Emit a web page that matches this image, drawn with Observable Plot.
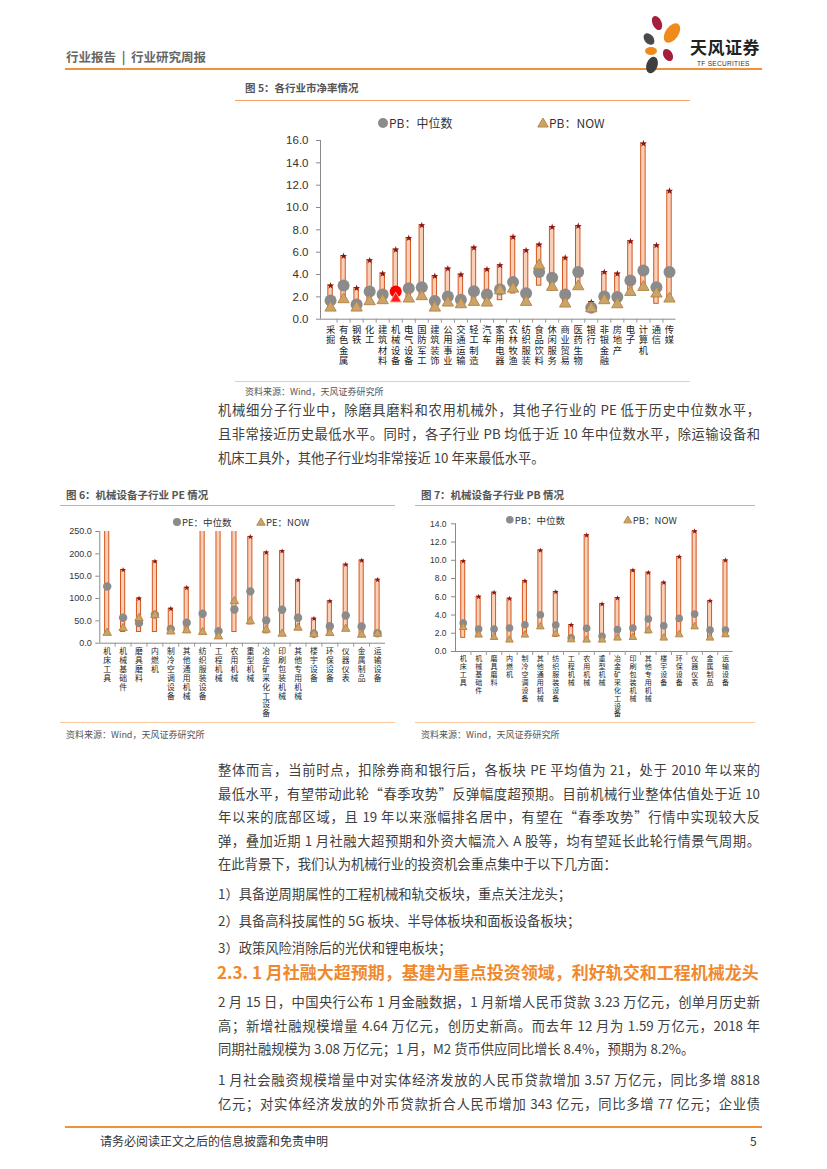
<!DOCTYPE html>
<html><head><meta charset="utf-8">
<script src="https://cdn.jsdelivr.net/npm/d3@7"></script>
<script src="https://cdn.jsdelivr.net/npm/@observablehq/plot@0.6"></script>
<style>
body{margin:0;background:#fff;}
#page{position:relative;width:827px;height:1169px;overflow:hidden;font-family:"Noto Sans CJK SC","Noto Sans",sans-serif;color:#333;background:#fff;}
.a{position:absolute;white-space:nowrap;}
.jl{position:absolute;text-align:justify;text-align-last:justify;}
</style></head><body><div id="page"></div>
<script>
// ---------- DATA ----------
// Fig 5: PB by industry
const indCats = ["采掘","有色金属","钢铁","化工","建筑材料","机械设备","电气设备","国防军工","建筑装饰","公用事业","交通运输","轻工制造","汽车","家用电器","农林牧渔","纺织服装","食品饮料","休闲服务","商业贸易","医药生物","银行","非银金融","房地产","电子","计算机","通信","传媒"];
const indPbMax = [3.0,5.65,2.78,5.26,4.07,6.22,7.26,8.4,3.86,4.52,3.98,6.4,4.46,4.82,7.36,6.16,6.67,8.25,5.5,8.34,1.53,4.22,4.07,6.97,15.73,6.61,11.48];
const indPbMin = [0.9,1.6,0.8,1.4,1.5,1.6,1.7,1.9,0.9,1.35,1.2,1.4,1.35,1.7,2.3,1.4,3.0,2.6,1.25,2.8,0.75,1.5,1.2,2.2,2.6,1.38,1.7];
const indPbMedian = [1.68,3.02,1.32,2.48,2.21,2.48,2.78,2.87,1.62,2.04,1.74,2.51,2.21,2.66,3.32,2.33,4.22,3.71,2.21,4.22,1.02,2.04,1.98,3.47,4.37,2.87,4.22];
const indPbNow = [1.02,1.77,1.02,1.59,1.68,1.83,1.83,2.04,1.02,1.47,1.32,1.53,1.47,2.57,2.72,1.53,4.82,2.87,1.38,2.93,0.96,1.68,1.32,2.42,2.87,2.28,1.83];
const indTicks = [0,2,4,6,8,10,12,14,16];
const indHighlight = "机械设备";

// Fig 6 / 7: machinery sub-industries
const subCats = ["机床工具","机械基础件","磨具磨料","内燃机","制冷空调设备","其他通用机械","纺织服装设备","工程机械","农用机械","重型机械","冶金矿采化工设备","印刷包装机械","其他专用机械","楼宇设备","环保设备","仪器仪表","金属制品","运输设备"];
const subPeMax = [380,164,100,183,77,124,420,300,350,238,203,206,141,55,94,176,185,142];
const subPeMin = [20,25,25,25,24,25,22,13,25,42,22,18,30,17,20,28,16,18];
const subPeMedian = [127,57,45,64,32,45.7,66,27,75.5,116,51,75,57,21,38,62,37.4,22.4];
const subPeNow = [23,33.6,56,63,26,28.5,24.7,15,94,49,30,21,34.5,20,22.4,32,18.8,21];
const peTicks = [0,50,100,150,200,250];

const subPbMax = [9.9,6.0,6.46,5.8,7.73,11.08,6.53,2.9,12.74,5.2,5.85,8.9,8.64,7.55,10.38,13.18,5.55,9.99];
const subPbMin = [1.5,1.6,1.4,1.1,1.6,2.5,1.6,1.2,1.1,1.1,1.35,1.4,2.0,1.3,1.7,2.5,1.3,1.6];
const subPbMedian = [3.12,2.47,2.47,2.58,2.94,4.03,2.9,1.49,2.54,1.67,2.4,2.58,3.56,2.83,3.63,4.1,2.36,2.36];
const subPbNow = [2.65,1.82,1.56,1.27,1.82,2.72,1.93,1.3,1.27,1.27,1.49,1.56,2.29,1.49,1.85,2.72,1.49,1.85];
const pbTicks = [0,2,4,6,8,10,12,14];

// ---------- PAGE HELPERS ----------
const page = document.getElementById("page");
function add(html, css, cls="a"){ const d=document.createElement("div"); d.className=cls; d.style.cssText=css; d.innerHTML=html; page.appendChild(d); return d; }
function txt(s, x, y, size, color, extra=""){ return add(s, `left:${x}px;top:${y-12}px;line-height:24px;font-size:${size}px;color:${color};${extra}`); }
function line(x, y, w, h, c){ add("", `left:${x}px;top:${y}px;width:${w}px;height:${h}px;background:${c};`); }
function jline(s, x, y, w, size, justify=true){ add(s, `left:${x}px;top:${y-12}px;width:${w}px;line-height:24px;font-size:${size}px;color:#404040;${justify?"":"text-align-last:left;"}`, "jl"); }

// ---------- HEADER ----------
txt("行业报告 &nbsp;|&nbsp; 行业研究周报", 66, 57, 12.5, "#666", "font-weight:bold;");
line(65, 68, 697, 2, "#f0923a");
add(`<svg width="50" height="62" viewBox="0 0 50 62">
 <ellipse cx="17" cy="10" rx="4.5" ry="7.5" fill="#a51f3d" transform="rotate(-25 17 10)"/>
 <ellipse cx="32" cy="20" rx="6.5" ry="11" fill="#f08a1c" transform="rotate(35 32 20)"/>
 <ellipse cx="9" cy="26" rx="4.5" ry="6.5" fill="#4a4a4a" transform="rotate(-40 9 26)"/>
 <ellipse cx="11" cy="38" rx="6" ry="4" fill="#f08a1c"/>
 <ellipse cx="28" cy="42" rx="4.5" ry="6.5" fill="#a51f3d" transform="rotate(-30 28 42)"/>
 <ellipse cx="12" cy="52" rx="5.5" ry="8.5" fill="#3f3f3f" transform="rotate(20 12 52)"/>
</svg>`, "left:640px;top:13px;");
txt("天风证券", 690, 47, 17, "#222", "font-weight:bold;letter-spacing:0.5px;");
txt("TF SECURITIES", 697, 64, 6.5, "#333", "font-family:'Liberation Sans';letter-spacing:0.3px;");

// ---------- CHART BUILDER ----------
function rangeChart(o){
  const rows = o.cats.map((c,i)=>({i, c, max:o.max[i], min:o.min[i], med:o.med[i], now:o.now[i], hl: c===o.highlight}));
  const n = rows.length;
  const b = o.box, p = o.plot;
  const yMax = o.ticks[o.ticks.length-1];
  const svg = Plot.plot({
    width: b.w, height: b.h,
    marginLeft: p.l - b.x, marginRight: b.x + b.w - p.r,
    marginTop: p.t - b.y, marginBottom: b.y + b.h - p.b,
    style: {fontFamily: "'Liberation Sans','Noto Sans CJK SC',sans-serif", background: "transparent", overflow: "visible"},
    x: {type: "linear", domain: o.xDomain, axis: null},
    y: {domain: [0, yMax], axis: null},
    marks: [
      Plot.rectY(rows, {x1: d=>d.i-o.bw, x2: d=>d.i+o.bw, y1: "min", y2: "max", fill: "#f9d0b6", stroke: "#d4561f", strokeWidth: 1, clip: true}),
      Plot.dot(rows, {x: "i", y: "max", r: o.rTop, symbol: "star", fill: "#8b1414", clip: true}),
      Plot.dot(rows, {x: "i", y: "med", r: o.rMed, fill: d=>d.hl?"#ff0000":"#8b8b8b"}),
      Plot.dot(rows, {x: "i", y: "now", r: o.rNow, symbol: "triangle", fill: d=>d.hl?"#ff1a1a":"#caa469", stroke: d=>d.hl?"#ffb3a0":"#b8894a", strokeWidth: 1}),
      Plot.ruleY([0], {stroke: "#8a8a8a"}),
      Plot.ruleX([o.xDomain[0]], {y1: 0, y2: yMax, stroke: "#8a8a8a"}),
      Plot.axisY({ticks: o.ticks, tickSize: 4, tickPadding: o.tickPad, tickFormat: d=>d.toFixed(1), fontSize: o.tickFont, fill: "#333", stroke: "#8a8a8a", label: null}),
      Plot.axisX({ticks: d3.range(n-1).map(i=>i+0.5), tickSize: 4, tickFormat: ()=>"", stroke: "#9a9a9a", label: null}),
      // category names stacked vertically, one upright character per line
      Plot.text(rows, {x: "i", y: 0, text: d=>d.c.split("").join("\n"), lineAnchor: "top", dy: o.labDy, fontSize: o.labFont, lineHeight: o.labLH, fill: "#222", fontFamily: "'Liberation Sans','Noto Sans CJK SC',sans-serif"})
    ]
  });
  svg.style.position = "absolute";
  svg.style.left = b.x + "px";
  svg.style.top = b.y + "px";
  page.appendChild(svg);
}
function legend(items, y, size){
  for (const it of items){
    const s = it.r*2+4;
    const shape = it.type==="circle"
      ? `<circle cx="${s/2}" cy="${s/2}" r="${it.r}" fill="#8b8b8b"/>`
      : `<polygon points="${s/2},${s/2-it.r} ${s/2+it.r*1.05},${s/2+it.r*0.8} ${s/2-it.r*1.05},${s/2+it.r*0.8}" fill="#caa469" stroke="#b8894a" stroke-width="1"/>`;
    add(`<svg width="${s}" height="${s}" style="vertical-align:middle">${shape}</svg>`, `left:${it.x-s/2}px;top:${y-s/2}px;line-height:0;`);
    txt(it.label, it.x+it.r+1, y, size, "#333");
  }
}

// ---------- FIG 5 ----------
txt("图 5：各行业市净率情况", 245, 88, 10.5, "#555", "font-weight:bold;");
line(235, 100, 455, 1, "#f3a56a");
legend([{type:"circle", r:5, x:383, label:"PB：中位数"}, {type:"tri", r:5, x:543, label:"PB：NOW"}], 123, 12);
rangeChart({cats: indCats, max: indPbMax, min: indPbMin, med: indPbMedian, now: indPbNow, highlight: indHighlight, ticks: indTicks,
  box: {x: 235, y: 128, w: 455, h: 252}, plot: {l: 320, r: 675.5, t: 140, b: 318.7}, xDomain: [-0.77, 26.5],
  bw: 0.17, rTop: 2.2, rMed: 6, rNow: 4.2, tickFont: 11.5, tickPad: 8, labDy: 6, labFont: 9.3, labLH: 1.13});
line(235, 381, 455, 1, "#f8c9a0");
txt("资料来源：Wind，天风证券研究所", 245, 392, 9, "#555");

// ---------- PARAGRAPH 1 ----------
jline("机械细分子行业中，除磨具磨料和农用机械外，其他子行业的 PE 低于历史中位数水平，", 218, 410, 542, 13.3);
jline("且非常接近历史最低水平。同时，各子行业 PB 均低于近 10 年中位数水平，除运输设备和", 218, 434, 542, 13.3);
jline("机床工具外，其他子行业均非常接近 10 年来最低水平。", 218, 458, 542, 13.3, false);

// ---------- FIG 6 ----------
txt("图 6：机械设备子行业 PE 情况", 66, 495, 10.5, "#555", "font-weight:bold;");
line(60, 505, 335, 1, "#f3a56a");
legend([{type:"circle", r:4, x:177, label:"PE：中位数"}, {type:"tri", r:4, x:261, label:"PE：NOW"}], 521.7, 9.5);
rangeChart({cats: subCats, max: subPeMax, min: subPeMin, med: subPeMedian, now: subPeNow, ticks: peTicks,
  box: {x: 55, y: 528, w: 340, h: 192}, plot: {l: 99.3, r: 385, t: 531, b: 642.7}, xDomain: [-0.465, 17.5],
  bw: 0.13, rTop: 1.8, rMed: 4.2, rNow: 3.1, tickFont: 9, tickPad: 4, labDy: 5, labFont: 7.8, labLH: 1.13});
line(60, 722, 335, 1, "#f8c9a0");
txt("资料来源：Wind，天风证券研究所", 66, 735, 9, "#555");

// ---------- FIG 7 ----------
txt("图 7：机械设备子行业 PB 情况", 421, 495, 10.5, "#555", "font-weight:bold;");
line(415, 505, 340, 1, "#f3a56a");
legend([{type:"circle", r:3.8, x:510, label:"PB：中位数"}, {type:"tri", r:3.8, x:628, label:"PB：NOW"}], 520, 9.5);
rangeChart({cats: subCats, max: subPbMax, min: subPbMin, med: subPbMedian, now: subPbNow, ticks: pbTicks,
  box: {x: 405, y: 518, w: 345, h: 202}, plot: {l: 455, r: 732.7, t: 523.3, b: 651}, xDomain: [-0.5, 17.5],
  bw: 0.13, rTop: 1.8, rMed: 3.8, rNow: 2.8, tickFont: 8.5, tickPad: 5, labDy: 4, labFont: 7, labLH: 1.13});
line(415, 722, 340, 1, "#f8c9a0");
txt("资料来源：Wind，天风证券研究所", 421, 735, 9, "#555");

// ---------- PARAGRAPH 2 ----------
jline("整体而言，当前时点，扣除券商和银行后，各板块 PE 平均值为 21，处于 2010 年以来的", 218, 770, 542, 13.3);
jline("最低水平，有望带动此轮“春季攻势”反弹幅度超预期。目前机械行业整体估值处于近 10", 218, 793.5, 542, 13.3);
jline("年以来的底部区域，且 19 年以来涨幅排名居中，有望在“春季攻势”行情中实现较大反", 218, 817, 542, 13.3);
jline("弹，叠加近期 1 月社融大超预期和外资大幅流入 A 股等，均有望延长此轮行情景气周期。", 218, 840.5, 542, 13.3);
jline("在此背景下，我们认为机械行业的投资机会重点集中于以下几方面：", 218, 864, 542, 13.3, false);
jline("1）具备逆周期属性的工程机械和轨交板块，重点关注龙头；", 218, 894, 542, 13.3, false);
jline("2）具备高科技属性的 5G 板块、半导体板块和面板设备板块；", 218, 921, 542, 13.3, false);
jline("3）政策风险消除后的光伏和锂电板块；", 218, 948, 542, 13.3, false);

// ---------- HEADING & PARAGRAPHS ----------
txt("2.3. 1 月社融大超预期，基建为重点投资领域，利好轨交和工程机械龙头", 217, 972, 17, "#f0892e", "font-weight:bold;");
jline("2 月 15 日，中国央行公布 1 月金融数据，1 月新增人民币贷款 3.23 万亿元，创单月历史新", 218, 1002, 542, 13.3);
jline("高；新增社融规模增量 4.64 万亿元，创历史新高。而去年 12 月为 1.59 万亿元，2018 年", 218, 1025.5, 542, 13.3);
jline("同期社融规模为 3.08 万亿元；1 月，M2 货币供应同比增长 8.4%，预期为 8.2%。", 218, 1049, 542, 13.3, false);
jline("1 月社会融资规模增量中对实体经济发放的人民币贷款增加 3.57 万亿元，同比多增 8818", 218, 1080, 542, 13.3);
jline("亿元；对实体经济发放的外币贷款折合人民币增加 343 亿元，同比多增 77 亿元；企业债", 218, 1103.5, 542, 13.3);

// ---------- FOOTER ----------
line(65, 1126, 697, 2, "#f0923a");
txt("请务必阅读正文之后的信息披露和免责申明", 100, 1141, 12, "#333");
txt("5", 750, 1141, 12, "#333");
</script></body></html>
